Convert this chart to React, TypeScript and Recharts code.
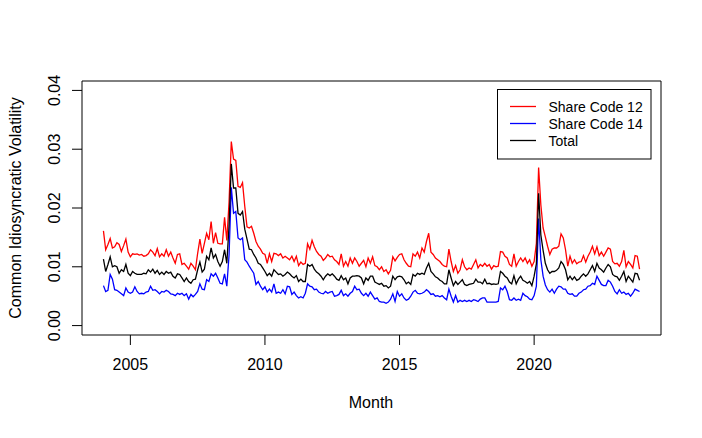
import { LineChart, Line, XAxis, YAxis, Legend, ReferenceLine } from "recharts"

const FONT = '"Liberation Sans", Arial, Helvetica, sans-serif'

const START_YEAR = 2004
const xTicks = [2005, 2010, 2015, 2020]
const yTicks = [0, 0.01, 0.02, 0.03, 0.04]

// monthly values Jan 2004 - Dec 2023, in units of 0.001
const shareCode12 = [
  16.1, 12.9, 13.8, 14.8, 13.2, 13.4, 14.1, 13.8, 12.6, 13.6, 14.7, 12.5,
  11.7, 12.2, 12.1, 12.2, 12.0, 12.1, 11.8, 11.9, 12.2, 12.9, 12.5, 11.9,
  13.1, 11.7, 12.2, 11.8, 12.9, 11.8, 12.5, 11.5, 10.6, 12.1, 12.2, 10.4,
  10.6, 10.1, 9.6, 10.6, 10.1, 9.5, 12.3, 14.7, 12.3, 14.0, 15.7, 14.6,
  17.7, 14.0, 15.8, 14.0, 13.9, 13.9, 18.4, 14.5, 21.0, 31.3, 28.3, 28.1,
  23.7, 23.5, 24.3, 20.3, 16.8, 16.6, 16.9, 15.7, 14.3, 13.5, 13.0, 12.3,
  12.1, 10.6, 12.2, 10.9, 12.3, 12.2, 11.9, 12.2, 11.5, 11.8, 11.5, 11.2,
  11.8, 10.9, 11.8, 10.2, 10.8, 10.4, 10.6, 13.9, 13.0, 14.5, 13.4, 12.6,
  12.1, 11.8, 11.1, 11.5, 12.1, 11.7, 11.8, 11.2, 10.9, 10.4, 12.2, 10.1,
  10.9, 10.1, 11.5, 10.6, 11.5, 10.9, 10.1, 10.6, 11.1, 10.0, 11.5, 10.6,
  11.7, 10.2, 10.0, 9.5, 10.0, 9.2, 9.5, 8.8, 9.4, 11.7, 11.0, 11.6,
  12.1, 12.2, 11.2, 10.6, 10.1, 10.0, 12.2, 11.8, 12.5, 11.5, 13.2, 12.5,
  14.3, 15.7, 12.5, 12.1, 11.5, 11.2, 10.9, 10.4, 10.1, 10.0, 13.0, 10.9,
  9.2, 10.2, 8.9, 9.5, 11.2, 10.0, 9.5, 9.8, 9.6, 10.4, 11.2, 9.8,
  10.4, 10.1, 10.6, 10.1, 10.4, 9.6, 10.2, 10.0, 10.1, 12.6, 12.5, 11.8,
  11.5, 10.4, 10.1, 12.2, 10.1, 10.9, 11.5, 10.9, 11.5, 10.6, 11.2, 10.1,
  10.9, 14.0, 26.9, 20.5, 16.6, 15.1, 13.5, 12.1, 13.0, 13.2, 13.2, 13.5,
  15.6, 14.9, 12.9, 10.1, 11.8, 10.6, 11.2, 10.5, 10.8, 10.9, 11.9, 10.8,
  11.8, 12.5, 13.5, 12.2, 13.4, 11.9, 12.5, 11.8, 12.5, 13.2, 13.0, 10.9,
  10.5, 10.6, 10.1, 10.9, 12.8, 10.0, 10.9, 10.4, 9.8, 11.9, 11.8, 9.6,
]

const shareCode14 = [
  6.8, 5.8, 6.0, 8.7, 7.9, 6.1, 6.0, 5.7, 5.4, 5.1, 6.4, 5.7,
  5.5, 5.7, 6.6, 5.8, 5.4, 5.5, 5.4, 5.7, 5.8, 6.7, 6.0, 6.1,
  5.8, 5.4, 5.8, 5.7, 6.0, 5.8, 5.4, 5.3, 5.1, 5.5, 5.3, 5.5,
  5.1, 5.4, 4.5, 5.3, 4.9, 5.3, 5.8, 7.1, 6.2, 6.1, 7.8, 7.5,
  8.8, 8.4, 8.9, 8.1, 7.2, 7.1, 8.8, 6.7, 12.0, 23.5, 19.1, 19.4,
  14.9, 14.6, 14.9, 11.2, 10.8, 10.1, 9.5, 8.9, 7.0, 7.5, 6.7, 6.1,
  6.6, 5.7, 6.2, 5.7, 7.1, 5.5, 5.7, 5.5, 6.1, 5.4, 6.7, 6.6,
  5.3, 5.7, 5.1, 4.7, 4.9, 4.7, 5.5, 7.1, 6.7, 6.6, 6.1, 6.2,
  5.7, 5.5, 5.4, 5.8, 5.5, 5.7, 5.8, 5.0, 5.1, 5.3, 6.0, 5.1,
  5.4, 5.0, 5.5, 5.8, 6.7, 6.1, 6.2, 5.5, 5.1, 5.5, 5.0, 5.7,
  5.1, 4.5, 4.7, 4.1, 4.0, 4.0, 3.8, 4.0, 4.5, 5.4, 4.1, 5.8,
  5.0, 5.4, 4.7, 4.3, 4.5, 5.0, 5.7, 6.0, 5.5, 5.4, 5.5, 5.7,
  6.1, 5.8, 5.3, 5.4, 5.0, 5.1, 4.9, 5.1, 4.7, 4.4, 6.2, 5.0,
  4.0, 5.1, 4.0, 4.3, 4.1, 4.3, 4.1, 4.3, 4.1, 4.4, 4.3, 4.1,
  4.5, 4.7, 4.7, 4.0, 4.0, 4.0, 4.0, 4.0, 4.1, 6.4, 6.1, 6.7,
  5.8, 4.4, 4.3, 4.7, 4.3, 4.5, 4.3, 5.5, 5.1, 4.9, 4.5, 4.4,
  5.1, 6.7, 18.2, 11.2, 8.4, 6.9, 6.1, 5.7, 6.2, 5.5, 6.2, 6.7,
  6.6, 6.2, 6.2, 5.5, 5.3, 5.4, 5.0, 5.0, 5.5, 5.7, 6.1, 6.2,
  6.7, 6.8, 7.2, 7.0, 8.4, 7.7, 7.0, 6.8, 6.8, 7.7, 7.4, 6.7,
  5.8, 5.4, 6.1, 5.5, 5.7, 5.3, 5.5, 5.0, 5.5, 6.2, 6.0, 5.8,
]

const total = [
  11.3, 9.2, 10.4, 11.7, 10.0, 10.2, 10.0, 8.9, 9.5, 9.2, 10.4, 8.9,
  8.5, 9.2, 8.9, 8.7, 8.7, 8.7, 8.9, 8.8, 9.5, 9.1, 9.6, 8.9,
  9.4, 8.7, 9.1, 8.7, 9.2, 8.9, 9.1, 8.4, 8.1, 8.8, 8.7, 8.1,
  7.5, 8.1, 7.5, 7.2, 7.8, 7.9, 9.5, 10.8, 9.1, 9.6, 11.8, 11.2,
  13.2, 11.5, 12.1, 10.9, 10.1, 10.9, 12.9, 10.6, 17.0, 27.5, 23.4, 23.4,
  19.1, 18.8, 19.4, 16.4, 14.7, 13.0, 12.9, 12.1, 11.5, 10.6, 10.4, 9.8,
  9.2, 8.5, 8.9, 8.4, 9.5, 9.1, 8.7, 8.8, 8.4, 8.7, 9.1, 8.8,
  8.4, 8.1, 8.5, 7.5, 7.9, 7.5, 7.5, 10.4, 10.1, 10.4, 9.6, 9.1,
  8.8, 8.4, 7.8, 8.4, 8.8, 8.5, 8.8, 8.4, 7.9, 7.7, 8.5, 7.8,
  8.1, 7.1, 8.1, 8.4, 8.4, 8.5, 8.4, 8.1, 7.1, 8.1, 7.7, 8.4,
  8.4, 7.4, 7.2, 7.0, 7.2, 6.7, 6.8, 6.4, 6.7, 8.4, 7.8, 8.3,
  8.4, 8.3, 7.8, 7.1, 7.4, 7.0, 8.7, 8.4, 8.9, 8.7, 8.9, 8.7,
  9.8, 10.6, 9.2, 8.8, 8.3, 8.1, 7.7, 7.5, 7.1, 7.1, 9.5, 8.1,
  6.8, 7.5, 7.0, 7.4, 7.8, 7.0, 6.8, 7.0, 7.1, 7.2, 7.9, 7.4,
  7.4, 7.1, 7.9, 7.1, 7.2, 7.0, 7.1, 7.0, 7.1, 9.2, 8.9, 8.4,
  8.1, 7.4, 7.1, 8.5, 7.1, 7.9, 8.4, 7.7, 7.5, 7.2, 7.5, 6.8,
  8.4, 10.5, 22.5, 15.4, 12.8, 10.6, 9.5, 8.9, 9.2, 9.2, 9.4, 9.8,
  10.9, 10.4, 9.5, 7.8, 8.4, 7.8, 8.3, 7.7, 7.9, 8.4, 8.8, 8.4,
  8.8, 9.5, 10.2, 9.2, 10.6, 9.8, 9.5, 9.1, 9.8, 10.4, 10.0, 8.7,
  8.4, 8.3, 7.7, 8.4, 9.2, 7.5, 8.4, 7.9, 7.4, 8.9, 8.8, 7.7,
]

const legendItems = [
  { label: "Share Code 12", color: "#ff0000" },
  { label: "Share Code 14", color: "#0000ff" },
  { label: "Total", color: "#000000" },
]

const data = total.map((v, i) => ({
  month: START_YEAR + i / 12,
  sc12: shareCode12[i] / 1000,
  sc14: shareCode14[i] / 1000,
  total: v / 1000,
}))

// R pads the data range by 4% on each side
const X_DOMAIN = [2003.2033, 2024.7133]
const Y_DOMAIN = [-0.0016, 0.0416]

function XTick({ x, y, payload }: any) {
  return (
    <text x={x} y={y} textAnchor="middle" fontSize={16} fontFamily={FONT} fill="#000">
      {payload.value}
    </text>
  )
}

function YTick({ x, y, payload }: any) {
  return (
    <text
      x={x}
      y={y}
      transform={`rotate(-90 ${x} ${y})`}
      textAnchor="middle"
      fontSize={16}
      fontFamily={FONT}
      fill="#000"
    >
      {payload.value.toFixed(2)}
    </text>
  )
}

function LegendBox() {
  return (
    <svg width={156} height={72} style={{ display: "block" }}>
      <rect x={0.5} y={0.5} width={153.5} height={69.5} fill="#fff" stroke="#000" strokeWidth={1} />
      {legendItems.map((it, i) => (
        <g key={it.label}>
          <line x1={13} x2={39} y1={17.5 + i * 17} y2={17.5 + i * 17} stroke={it.color} strokeWidth={1.3} />
          <text x={51.5} y={22.5 + i * 17} fontSize={14} fontFamily={FONT} fill="#000">
            {it.label}
          </text>
        </g>
      ))}
    </svg>
  )
}

export default function App() {
  return (
    <div style={{ position: "absolute", left: 0, top: 0, width: 702, height: 438, background: "#fff" }}>
      <LineChart width={702} height={438} data={data} margin={{ top: 81, right: 41, left: 0, bottom: 0 }}>
        <XAxis
          dataKey="month"
          type="number"
          domain={X_DOMAIN}
          allowDataOverflow
          ticks={xTicks}
          interval={0}
          height={103}
          tickSize={10}
          tickMargin={25}
          stroke="#000"
          tickLine={{ stroke: "#000" }}
          tick={<XTick />}
        />
        <YAxis
          type="number"
          domain={Y_DOMAIN}
          allowDataOverflow
          ticks={yTicks}
          interval={0}
          width={82}
          tickSize={10}
          tickMargin={12}
          stroke="#000"
          tickLine={{ stroke: "#000" }}
          tick={<YTick />}
        />
        {/* top and right sides of the plot box */}
        <ReferenceLine y={Y_DOMAIN[1]} stroke="#000" strokeWidth={1} />
        <ReferenceLine x={X_DOMAIN[1]} stroke="#000" strokeWidth={1} />
        <Legend
          layout="horizontal"
          verticalAlign="middle"
          align="center"
          content={<LegendBox />}
          wrapperStyle={{ position: "absolute", left: 497, top: 89, width: 156, height: 72 }}
        />
        <Line type="linear" dataKey="sc12" stroke="#ff0000" strokeWidth={1.3} dot={false} isAnimationActive={false} />
        <Line type="linear" dataKey="sc14" stroke="#0000ff" strokeWidth={1.3} dot={false} isAnimationActive={false} />
        <Line type="linear" dataKey="total" stroke="#000000" strokeWidth={1.3} dot={false} isAnimationActive={false} />
      </LineChart>
      <svg
        width={702}
        height={438}
        style={{ position: "absolute", left: 0, top: 0, pointerEvents: "none" }}
      >
        <text x={371} y={408} textAnchor="middle" fontSize={16} fontFamily={FONT} fill="#000">
          Month
        </text>
        <text
          x={21}
          y={208}
          transform="rotate(-90 21 208)"
          textAnchor="middle"
          fontSize={16}
          fontFamily={FONT}
          fill="#000"
        >
          Common Idiosyncratic Volatility
        </text>
      </svg>
    </div>
  )
}
